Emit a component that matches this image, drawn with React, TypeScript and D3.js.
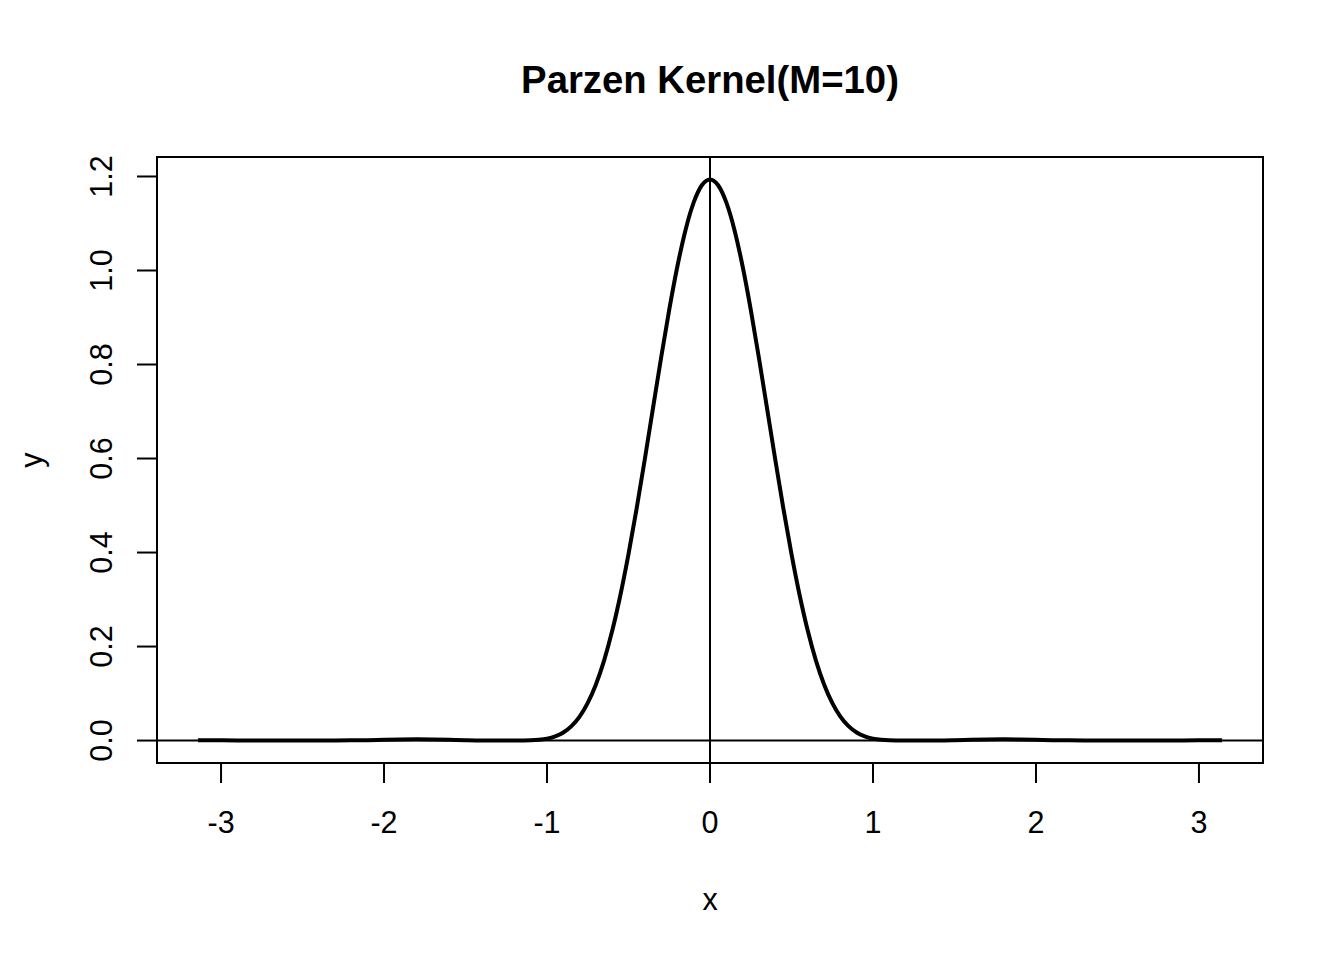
import React from "react";
import * as d3 from "d3";

const title = "Parzen Kernel(M=10)";
const xLabel = "x";
const yLabel = "y";
const xTicks = [-3, -2, -1, 0, 1, 2, 3];
const yTicks = [0.0, 0.2, 0.4, 0.6, 0.8, 1.0, 1.2];

const xs = [
  -3.1416, -3.1, -3.0, -2.9, -2.8, -2.7, -2.6, -2.5, -2.4, -2.3, -2.2, -2.1, -2.0,
  -1.9, -1.8, -1.7, -1.6, -1.5, -1.4, -1.3, -1.2, -1.15, -1.1, -1.05, -1.0,
  -0.95, -0.9, -0.85, -0.8, -0.75, -0.7, -0.65, -0.6, -0.55, -0.5, -0.45, -0.4,
  -0.35, -0.3, -0.25, -0.2, -0.15, -0.1, -0.05, 0,
  0.05, 0.1, 0.15, 0.2, 0.25, 0.3, 0.35, 0.4, 0.45, 0.5, 0.55, 0.6, 0.65, 0.7,
  0.75, 0.8, 0.85, 0.9, 0.95, 1.0, 1.05, 1.1, 1.15, 1.2, 1.3, 1.4, 1.5, 1.6,
  1.7, 1.8, 1.9, 2.0, 2.1, 2.2, 2.3, 2.4, 2.5, 2.6, 2.7, 2.8, 2.9, 3.0, 3.1, 3.1416,
];

const ys = [
  0.0006, 0.0006, 0.0005, 0.0003, 0.0001, 0.0, 0.0, 0.0, 0.0, 0.0001, 0.0004, 0.0009, 0.0017,
  0.0024, 0.0027, 0.0024, 0.0016, 0.0007, 0.0001, 0.0, 0.0, 0.0001, 0.0004, 0.0015, 0.0039,
  0.0087, 0.0171, 0.0307, 0.051, 0.0801, 0.1194, 0.1702, 0.2335, 0.3092, 0.3966, 0.4939, 0.5985,
  0.7068, 0.8144, 0.9168, 1.009, 1.0864, 1.1448, 1.1813, 1.1937,
  1.1813, 1.1448, 1.0864, 1.009, 0.9168, 0.8144, 0.7068, 0.5985, 0.4939, 0.3966, 0.3092, 0.2335, 0.1702, 0.1194,
  0.0801, 0.051, 0.0307, 0.0171, 0.0087, 0.0039, 0.0015, 0.0004, 0.0001, 0.0, 0.0, 0.0001, 0.0007, 0.0016,
  0.0024, 0.0027, 0.0024, 0.0017, 0.0009, 0.0004, 0.0001, 0.0, 0.0, 0.0, 0.0, 0.0001, 0.0003, 0.0005, 0.0006, 0.0006,
];

const W = 1344;
const H = 960;
const left = 157;
const right = 1263;
const top = 157;
const bottom = 763;
const font = "'Liberation Sans', Arial, sans-serif";

export default function App() {
  const xMin = d3.min(xs) as number;
  const xMax = d3.max(xs) as number;
  const yMin = d3.min(ys) as number;
  const yMax = d3.max(ys) as number;
  const xPad = (xMax - xMin) * 0.04;
  const yPad = (yMax - yMin) * 0.04;
  const x = d3.scaleLinear().domain([xMin - xPad, xMax + xPad]).range([left, right]);
  const y = d3.scaleLinear().domain([yMin - yPad, yMax + yPad]).range([bottom, top]);
  const pts: [number, number][] = xs.map((v, i) => [v, ys[i]]);
  const line = d3
    .line<[number, number]>()
    .x((d) => x(d[0]))
    .y((d) => y(d[1]))
    .curve(d3.curveMonotoneX);

  return (
    <svg
      width={W}
      height={H}
      style={{ position: "absolute", left: 0, top: 0, background: "#fff" }}
      fontFamily={font}
    >
      <rect x={0} y={0} width={W} height={H} fill="#fff" />
      <text x={(left + right) / 2} y={93} textAnchor="middle" fontSize={38.3} fontWeight="bold">
        {title}
      </text>
      {/* reference lines */}
      <line x1={left} x2={right} y1={y(0)} y2={y(0)} stroke="#000" strokeWidth={2} />
      <line x1={x(0)} x2={x(0)} y1={top} y2={bottom} stroke="#000" strokeWidth={2} />
      {/* curve */}
      <path d={line(pts) || ""} fill="none" stroke="#000" strokeWidth={4} strokeLinejoin="round" />
      {/* box */}
      <rect x={left} y={top} width={right - left} height={bottom - top} fill="none" stroke="#000" strokeWidth={2} />
      {/* x axis */}
      <line x1={x(xTicks[0])} x2={x(xTicks[xTicks.length - 1])} y1={bottom} y2={bottom} stroke="#000" strokeWidth={2} />
      {xTicks.map((t) => (
        <g key={"x" + t}>
          <line x1={x(t)} x2={x(t)} y1={bottom} y2={bottom + 20} stroke="#000" strokeWidth={2} />
          <text x={x(t)} y={833} textAnchor="middle" fontSize={30.5}>
            {t}
          </text>
        </g>
      ))}
      {/* y axis */}
      {yTicks.map((t) => (
        <g key={"y" + t}>
          <line x1={left} x2={left - 20} y1={y(t)} y2={y(t)} stroke="#000" strokeWidth={2} />
          <text
            transform={`translate(112, ${y(t)}) rotate(-90)`}
            textAnchor="middle"
            fontSize={30.5}
          >
            {t.toFixed(1)}
          </text>
        </g>
      ))}
      <text x={(left + right) / 2} y={910} textAnchor="middle" fontSize={30.5}>
        {xLabel}
      </text>
      <text transform={`translate(42, ${(top + bottom) / 2}) rotate(-90)`} textAnchor="middle" fontSize={30.5}>
        {yLabel}
      </text>
    </svg>
  );
}
